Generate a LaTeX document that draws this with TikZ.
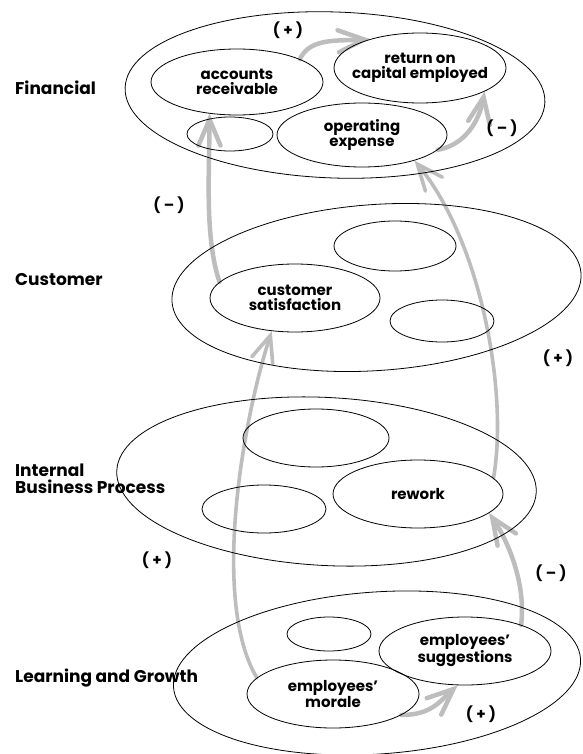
\documentclass[tikz,border=0pt]{standalone}
\usepackage{fontspec}
\setmainfont{Poppins}
\usetikzlibrary{arrows.meta,shapes.geometric,calc}
\definecolor{arrowgray}{HTML}{BDBDBD}
\pgfdeclarelayer{bg}
\pgfsetlayers{bg,main}
\begin{document}
\begin{tikzpicture}[x=1pt,y=-1pt,
  ell/.style={draw, ellipse, line width=0.8pt, inner sep=0pt},
  E/.style 2 args={minimum width=#1pt, minimum height=#2pt},
  lay/.style={font=\fontsize{17}{17}\selectfont\bfseries, anchor=west, align=left, inner sep=0pt},
  txt/.style={font=\fontsize{15}{14.5}\selectfont\bfseries, align=center, inner sep=0pt},
  sgn/.style={font=\fontsize{15}{15}\selectfont\bfseries, inner sep=0pt},
  link/.style={draw=arrowgray, line width=4.5pt, line cap=round,
    -{Straight Barb[length=26pt,width=22pt,line cap=round]}},
  thinlink/.style={link, line width=3.6pt},
]
\useasboundingbox (0,0) rectangle (582,754);

% ---------- Financial ----------
\node[ell, E={420}{166}, rotate=-2] (fin) at (335,95) {};
\node[ell, E={172}{66}] (ar) at (237,82) {};
\node[ell, E={172}{70}] (roce) at (420,68) {};
\node[ell, E={86}{34}] (fin0) at (230,134) {};
\node[ell, E={170}{64}] (oe) at (362,135) {};
\node[txt] (tar) at (ar) {accounts\\receivable};
\node[txt] (troce) at (roce) {return on\\capital employed};
\node[txt] (toe) at (oe) {operating\\expense};
\node[lay] (lfin) at (15,88) {Financial};

% ---------- Customer ----------
\node[ell, E={410}{166}, rotate=4] (cus) at (376.5,287.5) {};
\node[ell, E={170}{68}] (cs) at (295,298) {};
\node[ell, E={122}{50}] (cus1) at (395,246) {};
\node[ell, E={104}{42}] (cus2) at (442,321) {};
\node[txt] (tcs) at (cs) {customer\\satisfaction};
\node[lay] (lcus) at (15,280) {Customer};

% ---------- Internal Business Process ----------
\node[ell, E={420}{168}, rotate=-3] (ibp) at (326.5,481.5) {};
\node[ell, E={146}{58}] (ibp1) at (316,438) {};
\node[ell, E={124}{48}] (ibp2) at (264,509) {};
\node[ell, E={170}{68}] (rew) at (418,494) {};
\node[txt] (trew) at (rew) {rework};
\node[lay] (libp) at (15,479) {Internal\\Business Process};

% ---------- Learning and Growth ----------
\node[ell, E={408}{162}, rotate=4] (lg) at (377,673) {};
\node[ell, E={84}{34}] (lg1) at (329,634) {};
\node[ell, E={172}{68}] (sug) at (465,651) {};
\node[ell, E={172}{68}] (mor) at (333,694) {};
\node[txt] (tsug) at (sug) {employees’\\suggestions};
\node[txt] (tmor) at (mor) {employees’\\morale};
\node[lay] (llg) at (15,678) {Learning and Growth};

% ---------- signs ----------
\node[sgn] (s1) at (288,30) {( + )};
\node[sgn] (s2) at (502,128) {( – )};
\node[sgn] (s3) at (169,205) {( – )};
\node[sgn] (s4) at (558,358) {( + )};
\node[sgn] (s5) at (157,560) {( + )};
\node[sgn] (s6) at (551,573) {( – )};
\node[sgn] (s7) at (481,714) {( + )};

% ---------- connectors ----------
\begin{pgfonlayer}{bg}
\draw[link] (ar.20) .. controls +(10,-22) and +(-30,2) .. (roce.150);
\draw[link] (oe.-11) .. controls +(28,-5) and +(-5,28) .. (roce.-20);
\draw[link] (cs.168) .. controls +(-15,-45) and +(0,60) .. (ar.-131);
\draw[thinlink] (mor.168) .. controls +(-47,-80) and +(-27,82) .. (cs.-125);
\draw[thinlink] (rew.12) .. controls +(15,-87) and +(66,80) .. (oe.-26);
\draw[link] (sug.25) .. controls +(5,-40) and +(20,30) .. (rew.-15);
\draw[link] (mor.-17) .. controls +(30,0) and +(-18,16) .. (sug.-102);
\end{pgfonlayer}
\end{tikzpicture}
\end{document}
